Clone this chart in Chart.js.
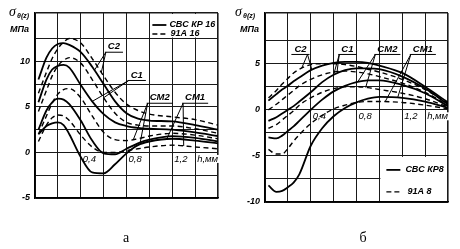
<!DOCTYPE html>
<html><head><meta charset="utf-8">
<script src="https://cdn.jsdelivr.net/npm/chart.js@4"></script>
<style>
html,body{margin:0;padding:0;background:#fff;}
#wrap{position:relative;width:460px;height:249px;overflow:hidden;background:#fff;}
canvas{position:absolute;top:0;}
</style></head><body>
<div id="wrap">
<canvas id="ca" width="230" height="249" style="left:0"></canvas>
<canvas id="cb" width="230" height="249" style="left:230px"></canvas>
</div>
<script>
// ---------- data ----------
const hDepth = [0.03, 0.1, 0.15, 0.2, 0.25, 0.3, 0.4, 0.5, 0.6, 0.7, 0.8, 0.9, 1.0, 1.2, 1.4, 1.6];
const xTickLabels = ['0,4', '0,8', '1,2', 'h,мм'];
const xTickValues = [0.4, 0.8, 1.2, 1.4];
const curveNames = ['С2', 'С1', 'СМ2', 'СМ1'];

// chart "а": СВС КР 16 (solid) / 91А 16 (dashed)
const a_C2_cbc  = [8.0, 10.4, 11.4, 11.9, 12.0, 11.8, 11.0, 9.4, 7.5, 5.6, 4.3, 3.7, 3.5, 3.4, 3.0, 2.5];
const a_C2_91   = [6.5, 8.8, 10.3, 11.4, 12.1, 12.5, 12.0, 10.3, 8.4, 6.6, 5.3, 4.6, 4.2, 3.9, 3.6, 3.0];
const a_C1_cbc  = [5.5, 8.0, 9.1, 9.5, 9.6, 9.3, 7.4, 5.6, 4.2, 3.3, 2.9, 2.7, 2.6, 2.5, 2.2, 1.8];
const a_C1_91   = [4.5, 6.8, 8.4, 9.5, 10.1, 10.4, 9.8, 8.0, 6.0, 4.3, 3.3, 3.0, 2.9, 2.9, 2.6, 2.1];
const a_CM2_cbc = [2.5, 4.6, 5.5, 5.9, 5.8, 5.3, 3.5, 1.3, -0.1, -0.2, 0.4, 1.0, 1.4, 1.8, 1.6, 1.2];
const a_CM2_91  = [2.0, 4.0, 5.4, 6.4, 6.9, 7.0, 6.0, 4.0, 2.2, 1.4, 1.3, 1.5, 1.8, 2.1, 1.9, 1.5];
const a_CM1_cbc = [2.0, 2.9, 3.2, 3.3, 3.0, 2.0, -0.5, -2.2, -2.3, -1.3, -0.1, 0.8, 1.2, 1.5, 1.3, 1.0];
const a_CM1_91  = [1.2, 3.0, 3.8, 4.1, 4.0, 3.5, 1.9, 0.6, 0.0, 0.0, 0.2, 0.4, 0.6, 0.8, 0.6, 0.4];

// chart "б": СВС КР8 (solid) / 91А 8 (dashed)
const b_C2_cbc  = [1.0, 1.7, 2.2, 2.6, 3.1, 3.5, 4.3, 4.8, 5.1, 5.2, 5.2, 5.1, 4.8, 4.0, 2.5, 0.8];
const b_C2_91   = [1.3, 2.1, 2.8, 3.4, 4.0, 4.4, 4.9, 5.0, 5.0, 4.9, 4.7, 4.4, 4.1, 3.3, 2.2, 0.7];
const b_C1_cbc  = [-1.2, -0.8, -0.4, 0.0, 0.4, 0.9, 1.9, 3.0, 3.8, 4.3, 4.5, 4.5, 4.4, 3.6, 2.3, 0.6];
const b_C1_91   = [0.0, 0.6, 1.1, 1.6, 2.1, 2.6, 3.3, 3.8, 4.1, 4.2, 4.1, 3.9, 3.6, 2.9, 1.9, 0.5];
const b_CM2_cbc = [-3.0, -3.1, -2.8, -2.3, -1.8, -1.2, 0.0, 1.1, 2.0, 2.6, 3.0, 3.2, 3.2, 2.7, 1.8, 0.4];
const b_CM2_91  = [-2.0, -1.6, -1.1, -0.6, -0.1, 0.5, 1.3, 1.9, 2.3, 2.5, 2.5, 2.4, 2.2, 1.8, 1.2, 0.3];
const b_CM1_cbc = [-8.2, -8.9, -8.8, -8.4, -7.9, -7.0, -3.9, -2.0, -0.7, 0.2, 0.8, 1.2, 1.4, 1.3, 0.9, 0.2];
const b_CM1_91  = [-4.3, -4.8, -4.8, -4.2, -3.4, -2.7, -1.5, -0.6, 0.1, 0.5, 0.8, 0.9, 0.9, 0.8, 0.5, 0.1];

// ---------- helpers ----------
const SANS = '"Liberation Sans", Arial, sans-serif';
const SERIF = '"Liberation Serif", "Times New Roman", serif';
function pts(arr){ return hDepth.map((h,i)=>({x:h, y:arr[i]})); }
function valAt(arr, h){
  for(let i=0;i<hDepth.length-1;i++){
    if(h>=hDepth[i] && h<=hDepth[i+1]){
      const t=(h-hDepth[i])/(hDepth[i+1]-hDepth[i]);
      return arr[i]+t*(arr[i+1]-arr[i]);
    }
  }
  return arr[arr.length-1];
}
function ds(arr, dashed){
  return {data:pts(arr), borderColor:'#000', borderWidth: dashed?1.4:1.8,
    borderDash: dashed?[5,3.5]:[], pointRadius:0, fill:false,
    cubicInterpolationMode:'monotone'};
}

function makeChart(id, cfg){
  const overlay = {
    id:'overlay',
    beforeDatasetsDraw(chart){
      const c=chart.ctx, xs=chart.scales.x, ys=chart.scales.y, ca=chart.chartArea;
      c.save();
      c.fillStyle='#fff';
      const lb = cfg.legendBox(xs, ys, ca);
      c.fillRect(lb.x, lb.y, lb.w, lb.h);
      c.font = 'italic 9.5px '+SANS;
      const y0 = ys.getPixelForValue(0);
      xTickValues.forEach((v,i)=>{
        const x = xs.getPixelForValue(v)+2;
        const w = c.measureText(xTickLabels[i]).width;
        c.fillRect(x, y0+2.5, w+1, 8);
      });
      c.restore();
    },
    afterDatasetsDraw(chart){
      const c=chart.ctx, xs=chart.scales.x, ys=chart.scales.y, ca=chart.chartArea;
      c.save();
      c.fillStyle='#000'; c.strokeStyle='#000';
      c.font = 'italic 9.5px '+SANS;
      c.textBaseline='middle'; c.textAlign='left';
      const y0 = ys.getPixelForValue(0);
      xTickValues.forEach((v,i)=>{
        c.fillText(xTickLabels[i], xs.getPixelForValue(v)+2, y0+6.5);
      });
      c.font = 'italic bold 9.5px '+SANS;
      c.textAlign='center';
      cfg.labels.forEach(L=>{
        const cx = xs.getPixelForValue(L.h), cy = ys.getPixelForValue(L.v);
        c.fillText(L.text, cx, cy);
        const w = c.measureText(L.text).width;
        const uy = cy+5.5, ux0 = cx-w/2-3, ux1 = cx+w/2+3;
        c.lineWidth=1;
        c.beginPath(); c.moveTo(ux0, uy); c.lineTo(ux1, uy); c.stroke();
        const ox = L.from==='right'? ux1-2 : ux0+1;
        L.targets.forEach(t=>{
          const tx = xs.getPixelForValue(t.h), ty = ys.getPixelForValue(valAt(t.arr, t.h));
          c.beginPath(); c.moveTo(ox, uy); c.lineTo(tx, ty); c.stroke();
        });
      });
      const lb = cfg.legendBox(xs, ys, ca);
      c.textAlign='left';
      c.font = 'italic bold 9px '+SANS;
      cfg.legend.forEach(item=>{
        const ly = lb.y + item.dy;
        c.lineWidth = item.dashed?1.4:1.8;
        c.setLineDash(item.dashed?[5,3]:[]);
        c.beginPath(); c.moveTo(lb.x+item.lx0, ly); c.lineTo(lb.x+item.lx1, ly); c.stroke();
        c.setLineDash([]);
        c.fillText(item.text, lb.x+item.tx, ly);
      });
      c.restore();
    },
    afterDraw(chart){
      const c=chart.ctx;
      c.save(); c.fillStyle='#000'; c.textBaseline='alphabetic'; c.textAlign='left';
      c.font = 'italic 14px '+SERIF;
      c.fillText('σ', cfg.sigmaX, 16);
      c.font = 'italic bold 7px '+SANS;
      c.fillText('θ(z)', cfg.sigmaX+8, 18);
      c.font = 'italic bold 9px '+SANS;
      c.fillText('МПа', 10, 32);
      c.font = '14px '+SERIF;
      c.textAlign='center';
      c.fillText(cfg.sub, cfg.subX, 242);
      c.restore();
    }
  };

  return new Chart(document.getElementById(id), {
    type:'line',
    data:{datasets: cfg.datasets},
    options:{
      responsive:false, animation:false, devicePixelRatio:1,
      layout:{padding:{top:13, right:12, left:0, bottom:0}},
      plugins:{legend:{display:false}, tooltip:{enabled:false}},
      scales:{
        x:{type:'linear', min:0, max:1.6,
          ticks:{display:false, stepSize:0.2},
          grid:{color:'#1a1a1a', drawTicks:false,
            lineWidth:(ctx)=> (ctx.tick && Math.abs(ctx.tick.value-1.6)<1e-6)?1.6:1},
          border:{color:'#000', width:1.6},
          afterFit:(s)=>{ s.height = cfg.xHeight; }
        },
        y:{type:'linear', min:cfg.ymin, max:cfg.ymax,
          ticks:{stepSize:2.5, padding:5, color:'#000',
            font:{family:'Liberation Sans', size:9, style:'italic', weight:'bold'},
            callback:(v)=> (Math.abs(v%5)<1e-6 && v<=cfg.maxLabel)? String(v) : ''},
          grid:{drawTicks:false,
            color:(ctx)=>{ const v=ctx.tick?ctx.tick.value:0;
              return cfg.hideGrid.some(h=>Math.abs(h-v)<1e-6)?'rgba(0,0,0,0)':'#1a1a1a'; },
            lineWidth:(ctx)=> (ctx.tick && Math.abs(ctx.tick.value-cfg.ymax)<1e-6)?1.6:1},
          border:{color:'#000', width:1.6},
          afterFit:(s)=>{ s.width = 35; }
        }
      }
    },
    plugins:[overlay]
  });
}

makeChart('ca', {
  ymin:-5, ymax:15.3, maxLabel:10, hideGrid:[15], xHeight:51,
  sigmaX:9, sub:'а', subX:126,
  datasets:[ds(a_C2_cbc,false), ds(a_C2_91,true), ds(a_C1_cbc,false), ds(a_C1_91,true),
            ds(a_CM2_cbc,false), ds(a_CM2_91,true), ds(a_CM1_cbc,false), ds(a_CM1_91,true)],
  legendBox:(xs,ys,ca)=>{ const x=xs.getPixelForValue(1.0)+1, y=ca.top+1;
    return {x:x, y:y, w:ca.right-1-x, h:ys.getPixelForValue(12.5)-1-y}; },
  legend:[
    {text:'СВС КР 16', dashed:false, dy:11, lx0:2, lx1:16, tx:19},
    {text:'91А 16', dashed:true, dy:20, lx0:2, lx1:16, tx:20}
  ],
  labels:[
    {text:curveNames[0], h:0.69, v:11.6, from:'left', targets:[{arr:a_C2_cbc,h:0.52},{arr:a_C2_91,h:0.58}]},
    {text:curveNames[1], h:0.89, v:8.5, from:'left', targets:[{arr:a_C1_cbc,h:0.5},{arr:a_C1_91,h:0.6}]},
    {text:curveNames[2], h:1.09, v:6.0, from:'left', targets:[{arr:a_CM2_cbc,h:0.92},{arr:a_CM2_91,h:0.86}]},
    {text:curveNames[3], h:1.40, v:6.0, from:'left', targets:[{arr:a_CM1_cbc,h:1.15},{arr:a_CM1_91,h:1.3}]}
  ]
});

makeChart('cb', {
  ymin:-10, ymax:10.5, maxLabel:5, hideGrid:[10], xHeight:47,
  sigmaX:5, sub:'б', subX:133,
  datasets:[ds(b_C2_cbc,false), ds(b_C2_91,true), ds(b_C1_cbc,false), ds(b_C1_91,true),
            ds(b_CM2_cbc,false), ds(b_CM2_91,true), ds(b_CM1_cbc,false), ds(b_CM1_91,true)],
  legendBox:(xs,ys,ca)=>{ const x=xs.getPixelForValue(1.0)+1, y=ys.getPixelForValue(-5)+1;
    return {x:x, y:y, w:ca.right-1-x, h:ca.bottom-1-y}; },
  legend:[
    {text:'СВС КР8', dashed:false, dy:13, lx0:6, lx1:20, tx:25},
    {text:'91А 8', dashed:true, dy:35, lx0:6, lx1:21, tx:27}
  ],
  labels:[
    {text:curveNames[0], h:0.31, v:6.6, from:'right', targets:[{arr:b_C2_91,h:0.32},{arr:b_C2_cbc,h:0.41}]},
    {text:curveNames[1], h:0.72, v:6.6, from:'left', targets:[{arr:b_C1_91,h:0.63},{arr:b_C1_cbc,h:0.6}]},
    {text:curveNames[2], h:1.07, v:6.6, from:'left', targets:[{arr:b_CM2_cbc,h:0.81},{arr:b_CM2_91,h:0.88}]},
    {text:curveNames[3], h:1.38, v:6.6, from:'left', targets:[{arr:b_CM1_91,h:1.05},{arr:b_CM1_cbc,h:1.16}]}
  ]
});
</script>
</body></html>
